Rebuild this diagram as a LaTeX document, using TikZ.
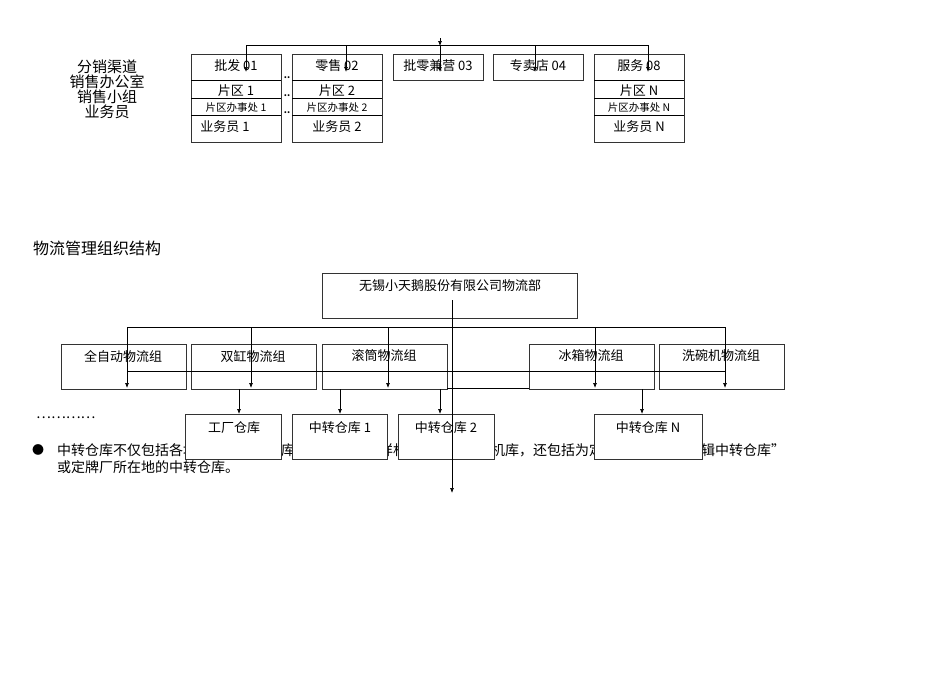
\documentclass[tikz,border=0pt]{standalone}
\usepackage{fontspec}
\setmainfont{Noto Sans CJK SC}
\usetikzlibrary{arrows.meta}
\begin{document}
\begin{tikzpicture}[x=1pt,y=-1pt,
  bx/.style={draw=black!80,line width=0.7pt,fill=white},
  tx/.style={font=\fontsize{13}{14}\selectfont,inner sep=0pt},
  sm/.style={font=\fontsize{10.5}{12}\selectfont,inner sep=0pt},
  ln/.style={line width=0.7pt},
  ar/.style={ln,-{Latex[length=5pt,width=4pt]}}]
\useasboundingbox[fill=white] (0,0) rectangle (950,672);
% ---------- top chart ----------
\foreach \x/\n in {191/a,292/b,594/c}{
  \draw[bx] (\x,54) rectangle ++(90,88);
  \draw[ln] (\x,80) -- ++(90,0) (\x,98) -- ++(90,0) (\x,115) -- ++(90,0);}
\draw[bx] (393,54) rectangle (483,80);
\draw[bx] (493,54) rectangle (583,80);
\node[tx] (t1) at (236,66) {批发 01};
\node[tx] (t2) at (337,66) {零售 02};
\node[tx] (t3) at (438,66) {批零兼营 03};
\node[tx] (t4) at (538,66) {专卖店 04};
\node[tx] (t5) at (639,66) {服务 08};
\node[tx] at (236,91) {片区 1};
\node[tx] at (337,91) {片区 2};
\node[tx] at (639,91) {片区 N};
\node[sm] at (236,108) {片区办事处 1};
\node[sm] at (337,108) {片区办事处 2};
\node[sm] at (639,108) {片区办事处 N};
\node[tx] at (225,127) {业务员 1};
\node[tx] at (337,127) {业务员 2};
\node[tx] at (639,127) {业务员 N};
\foreach \y in {80,98,115}{\node[font=\bfseries\small,inner sep=0pt] at (287,\y-2) {..};}
\coordinate (top) at (440,38);
\draw[ar] (top) -- (440,46);
\draw[ln] (246,45) -- (648,45);
\foreach \x in {246,346,440,535,648}{\draw[ar] (\x,45) -- (\x,72);}
\node[font=\fontsize{15}{16}\selectfont,align=center,inner sep=0pt] (lbl) at (107,89)
  {分销渠道\\[-1pt]销售办公室\\[-1pt]销售小组\\[-1pt]业务员};
% ---------- title ----------
\node[font=\fontsize{16}{18}\selectfont,anchor=west,inner sep=0pt] (title) at (33,248) {物流管理组织结构};
% ---------- text under ----------
\node[font=\fontsize{14}{16}\selectfont,anchor=west,inner sep=0pt] (dots) at (36,418) {…………};
\node[font=\fontsize{12}{14}\selectfont,inner sep=0pt] (bul) at (38,450) {●};
\node[font=\fontsize{14}{16}\selectfont,anchor=west,inner sep=0pt] (p1) at (57,450) {中转仓库不仅包括各地的常规中转仓库，也包括中转样机库、中转残损机库，还包括为定牌厂设定的“逻辑中转仓库”};
\node[font=\fontsize{14}{16}\selectfont,anchor=west,inner sep=0pt] (p2) at (57,467) {或定牌厂所在地的中转仓库。};
% ---------- bottom chart ----------
\draw[bx] (322,273) rectangle (577,318);
\node[tx] (hq) at (450,286) {无锡小天鹅股份有限公司物流部};
\foreach \x/\t in {61/全自动物流组,191/双缸物流组,322/滚筒物流组,529/冰箱物流组,659/洗碗机物流组}{
  \draw[bx] (\x,344) rectangle ++(125,45);
  \node[tx] at (\x+62,356) {\t};}
\draw[ln] (127,371) -- (725,371);
\draw[ln] (447,388) -- (529,388);
\draw[ln] (127,327) -- (725,327);
\foreach \x in {127,251,388,595,725}{\draw[ar] (\x,327) -- (\x,388);}
\foreach \x in {239,340,440,642}{\draw[ar] (\x,389) -- (\x,414);}
\draw[bx] (185,414) rectangle (281,459);
\draw[bx] (292,414) rectangle (387,459);
\draw[bx] (398,414) rectangle (494,459);
\draw[bx] (594,414) rectangle (702,459);
\node[tx] (w1) at (234,428) {工厂仓库};
\node[tx] (w2) at (340,428) {中转仓库 1};
\node[tx] (w3) at (446,428) {中转仓库 2};
\node[tx] (w4) at (648,428) {中转仓库 N};
\coordinate (bend) at (452,493);
\draw[ar] (452,300) -- (bend);
\end{tikzpicture}
\end{document}
